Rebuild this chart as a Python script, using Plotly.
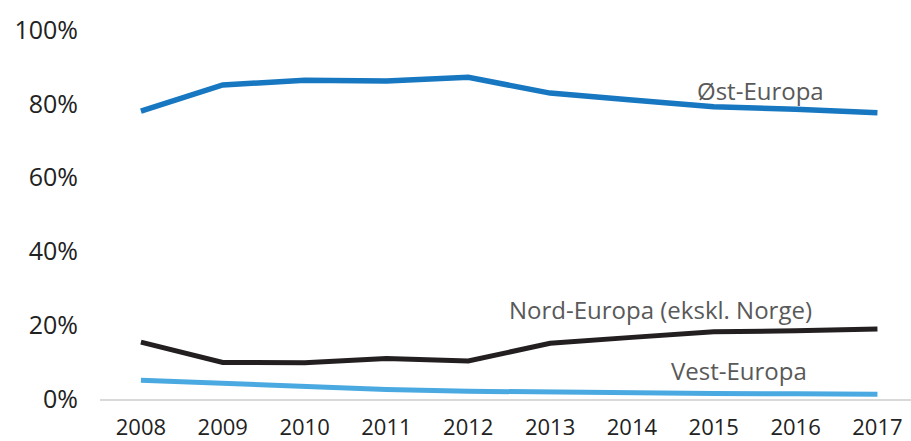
import plotly.graph_objects as go

years = ["2008", "2009", "2010", "2011", "2012", "2013", "2014", "2015", "2016", "2017"]
ost = [78.0, 85.1, 86.4, 86.2, 87.2, 82.9, 81.0, 79.2, 78.5, 77.6]
nord = [15.4, 9.9, 9.8, 11.0, 10.3, 15.1, 16.7, 18.2, 18.5, 19.0]
vest = [5.1, 4.2, 3.3, 2.6, 2.1, 1.8, 1.6, 1.5, 1.4, 1.3]

FONT = "Open Sans"
fig = go.Figure()
fig.add_trace(go.Scatter(x=years, y=ost, mode="lines", name="Øst-Europa",
                         line=dict(color="#1777C0", width=5.5)))
fig.add_trace(go.Scatter(x=years, y=nord, mode="lines", name="Nord-Europa (ekskl. Norge)",
                         line=dict(color="#231F20", width=5)))
fig.add_trace(go.Scatter(x=years, y=vest, mode="lines", name="Vest-Europa",
                         line=dict(color="#4AA9E0", width=5)))

ann_style = dict(showarrow=False, font=dict(family=FONT, size=24, color="#595959"),
                 xref="paper", yref="y", xanchor="center", yanchor="middle")
fig.add_annotation(text="Øst-Europa", x=(760 - 100) / 811, y=83.5, **ann_style)
fig.add_annotation(text="Nord-Europa (ekskl. Norge)", x=(660 - 100) / 811, y=24.3, **ann_style)
fig.add_annotation(text="Vest-Europa", x=(739 - 100) / 811, y=7.6, **ann_style)

fig.update_layout(
    width=911, height=441,
    margin=dict(l=100, r=0, t=30, b=42),
    paper_bgcolor="white", plot_bgcolor="white",
    showlegend=False,
    font=dict(family=FONT, color="#222222"),
)
fig.update_xaxes(type="category", range=[-0.5, 9.41], showgrid=False,
                 showline=True, linecolor="#D9D9D9", linewidth=2,
                 ticks="", tickfont=dict(size=22, family=FONT, color="#222222"),
                 ticklabelstandoff=8, zeroline=False, automargin=False)
fig.update_yaxes(range=[0, 100], tickvals=[0, 20, 40, 60, 80, 100],
                 ticktext=["0%", "20%", "40%", "60%", "80%", "100%"],
                 showgrid=False, zeroline=False, showline=False, ticks="",
                 tickfont=dict(size=25, family=FONT, color="#222222"),
                 ticklabelstandoff=21, automargin=False)

fig.write_html("out.html", config={"displayModeBar": False},
               post_script="document.body.style.margin='0';document.body.style.overflow='hidden';")
